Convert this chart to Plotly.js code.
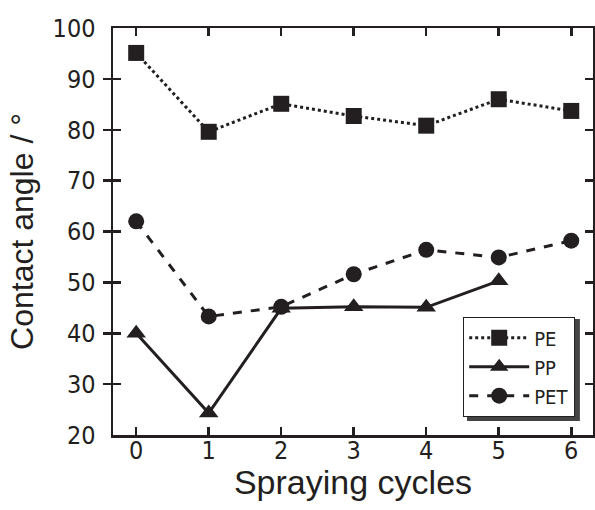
<!DOCTYPE html>
<html>
<head>
<meta charset="utf-8">
<script src="https://cdn.plot.ly/plotly-3.0.1.min.js"></script>
<style>html,body{margin:0;padding:0;background:#fff;}#chart{width:595px;height:510px;}</style>
</head>
<body>
<div id="chart"></div>
<script>
var cycles = [0, 1, 2, 3, 4, 5, 6];
var cyclesPP = [0, 1, 2, 3, 4, 5];
var pe = [95.1, 79.6, 85.1, 82.7, 80.8, 86.0, 83.7];
var pp = [40.0, 24.3, 44.9, 45.2, 45.1, 50.3];
var pet = [62.0, 43.3, 45.2, 51.6, 56.4, 54.9, 58.2];
var xTicks = [0, 1, 2, 3, 4, 5, 6];
var yTicks = [20, 30, 40, 50, 60, 70, 80, 90, 100];

var ink = '#231f20';
var narrow = '"Liberation Sans Narrow", "DejaVu Sans Condensed", Arial, sans-serif';
var tickFont = {family: narrow, size: 25, color: ink};
var legendFont = {family: narrow, size: 20, color: ink};
var xTitleFont = {family: 'Arial, "Liberation Sans", sans-serif', size: 34, color: ink};
var yTitleFont = {family: 'Arial, "Liberation Sans", sans-serif', size: 32, color: ink};

var traces = [
  {x: cycles, y: pe, name: 'PE', mode: 'lines+markers',
   line: {color: ink, width: 3, dash: 'dot'},
   marker: {symbol: 'square', size: 16, color: ink}},
  {x: cyclesPP, y: pp, name: 'PP', mode: 'lines+markers',
   line: {color: ink, width: 3},
   marker: {symbol: 'triangle-up', size: 17, color: ink}},
  {x: cycles, y: pet, name: 'PET', mode: 'lines+markers',
   line: {color: ink, width: 3, dash: 'dash'},
   marker: {symbol: 'circle', size: 16, color: ink}},
  /* carrier for the tick-label axis (draws nothing) */
  {x: cycles, y: pe, xaxis: 'x2', mode: 'markers', opacity: 0,
   showlegend: false, hoverinfo: 'skip', marker: {size: 1}}
];

var axisCommon = {
  showline: true, linecolor: ink, linewidth: 2.5, mirror: 'allticks',
  ticks: 'inside', ticklen: 8, tickwidth: 2.5, tickcolor: ink,
  showgrid: false, zeroline: false, tickfont: tickFont
};

var xRange = [-0.32, 6.3];

var layout = {
  width: 595, height: 510,
  margin: {l: 113, r: 2, t: 28, b: 75},
  paper_bgcolor: '#fff', plot_bgcolor: '#fff',
  showlegend: true,
  xaxis: Object.assign({}, axisCommon, {
    range: xRange, tickvals: xTicks, showticklabels: false,
    title: {text: 'Spraying cycles', font: xTitleFont, standoff: 34}
  }),
  xaxis2: {
    overlaying: 'x', anchor: 'free', position: 0.005, side: 'bottom',
    range: xRange, tickvals: xTicks, ticktext: xTicks.map(String),
    showline: false, ticks: '', showgrid: false, zeroline: false, tickfont: tickFont
  },
  yaxis: Object.assign({}, axisCommon, {
    range: [20, 100], tickvals: yTicks, ticktext: yTicks.map(String),
    ticklabelstandoff: 10,
    title: {text: 'Contact angle / °', font: yTitleFont, standoff: 10}
  }),
  legend: {
    x: 0.9625, y: 0.0442, xanchor: 'right', yanchor: 'bottom',
    bgcolor: '#fff', bordercolor: ink, borderwidth: 1.2,
    font: legendFont, tracegroupgap: 0, itemwidth: 60
  },
  shapes: [{
    type: 'rect', xref: 'paper', yref: 'paper', layer: 'above',
    x0: 0.7375, x1: 0.9727, y0: 0.0344, y1: 0.285,
    fillcolor: '#444', line: {width: 0}
  }]
};

Plotly.newPlot('chart', traces, layout, {staticPlot: true, displayModeBar: false});
</script>
</body>
</html>
